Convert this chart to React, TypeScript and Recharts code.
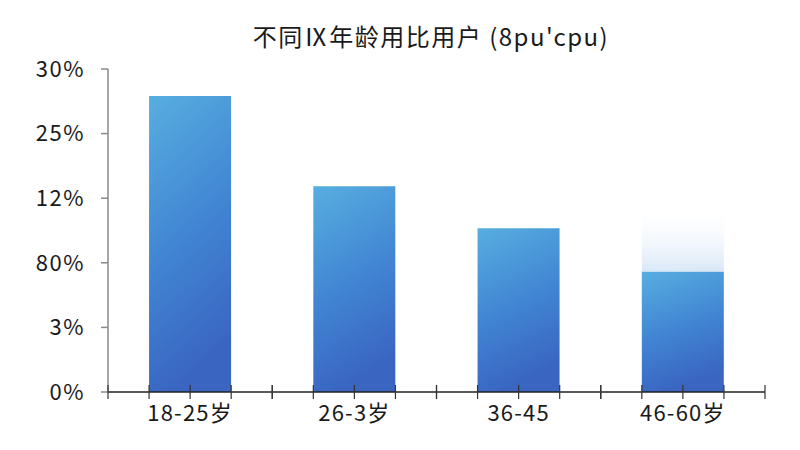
import React from 'react'
import { BarChart, Bar, XAxis, YAxis } from 'recharts'

const categories = ['18-25岁', '26-3岁', '36-45', '46-60岁']
const shareValues = [27.5, 19.1, 15.2, 11.2]
const glowValues = [0, 0, 0, 6.3]
const yTicks = [0, 6, 12, 18, 24, 30]
const yTickLabels = ['0%', '3%', '80%', '12%', '25%', '30%']
const title = "不同Ⅸ年龄用比用户 (8pu'cpu)"

const data = categories.map((name, i) => ({ name, share: shareValues[i], glow: glowValues[i] }))

const FONT = '"Noto Sans CJK SC", "Noto Sans", sans-serif'
const TICK_SIZE = 7
const TICK_MARGIN = 6

// draws the crossing tick marks at quarter-band steps plus the label
const XTick = (props: any) => {
  const { x, y, payload } = props
  const axisY = y - TICK_SIZE - TICK_MARGIN
  const half = payload.offset || 0
  const steps = [-1, -0.5, 0, 0.5, 1]
  return (
    <g>
      {steps.map((s) => (
        <line
          key={s}
          x1={x + s * half}
          x2={x + s * half}
          y1={axisY - 7}
          y2={axisY + 7}
          stroke="#333"
          strokeWidth={1.2}
        />
      ))}
      <text
        x={x}
        y={y}
        dy="0.71em"
        textAnchor="middle"
        fill="#1a1a1a"
        fontSize={22}
        letterSpacing={1.2}
        fontFamily={FONT}
      >
        {payload.value}
      </text>
    </g>
  )
}

export default function App() {
  return (
    <div style={{ position: 'absolute', left: 0, top: 0, width: 800, height: 450, background: '#fff' }}>
      <div
        style={{
          position: 'absolute',
          left: 0,
          top: 20,
          width: 862,
          textAlign: 'center',
          fontFamily: FONT,
          fontSize: 24,
          letterSpacing: 1.5,
          lineHeight: '32px',
          color: '#1a1a1a'
        }}
      >
        {title}
      </div>
      <BarChart
        width={800}
        height={450}
        data={data}
        margin={{ top: 69, right: 35, left: 48, bottom: 18 }}
        barCategoryGap="25%"
      >
        <defs>
          <linearGradient id="barFill" x1="0" y1="0" x2="0.25" y2="1">
            <stop offset="0%" stopColor="#57aee0" />
            <stop offset="55%" stopColor="#4185d3" />
            <stop offset="100%" stopColor="#3a66c2" />
          </linearGradient>
          <linearGradient id="glowFill" x1="0" y1="0" x2="0" y2="1">
            <stop offset="0%" stopColor="#ffffff" stopOpacity={0} />
            <stop offset="100%" stopColor="#d9e7f7" stopOpacity={1} />
          </linearGradient>
        </defs>
        <XAxis
          dataKey="name"
          height={40}
          tickLine={false}
          tickSize={TICK_SIZE}
          tickMargin={TICK_MARGIN}
          axisLine={{ stroke: '#222', strokeWidth: 1.5 }}
          tick={<XTick />}
          interval={0}
        />
        <YAxis
          width={60}
          domain={[0, 30]}
          ticks={yTicks}
          interval={0}
          tickFormatter={(v: number) => yTickLabels[yTicks.indexOf(v)] ?? ''}
          tickSize={TICK_SIZE}
          tickMargin={16}
          axisLine={{ stroke: '#8a8a8a', strokeWidth: 1.5 }}
          tickLine={{ stroke: '#8a8a8a', strokeWidth: 1.5 }}
          tick={{ fill: '#1a1a1a', fontSize: 22, fontFamily: FONT, letterSpacing: 1.5 }}
        />
        <Bar dataKey="share" stackId="a" fill="url(#barFill)" isAnimationActive={false} />
        <Bar dataKey="glow" stackId="a" fill="url(#glowFill)" isAnimationActive={false} />
      </BarChart>
    </div>
  )
}
